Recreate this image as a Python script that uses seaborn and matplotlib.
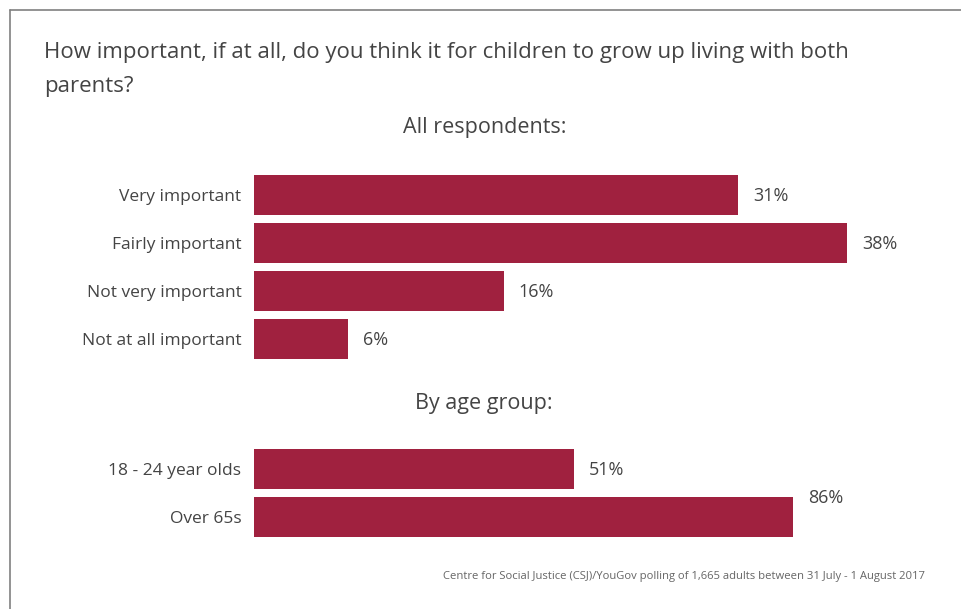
import matplotlib
matplotlib.use("Agg")
import matplotlib.pyplot as plt
from matplotlib.lines import Line2D
import seaborn as sns
import pandas as pd

# Survey answers, all respondents
answer_labels = ["Very important", "Fairly important", "Not very important", "Not at all important"]
answer_values = [31, 38, 16, 6]

# "Very/fairly important" by age group
age_labels = ["18 - 24 year olds", "Over 65s"]
age_values = [51, 86]

title = "How important, if at all, do you think it for children to grow up living with both\nparents?"
source = "Centre for Social Justice (CSJ)/YouGov polling of 1,665 adults between 31 July - 1 August 2017"

BAR = "#A0213F"
TEXT = "#444444"

sns.set_theme(style="white")
plt.rcParams["font.family"] = ["Open Sans", "DejaVu Sans"]

W, H = 962, 609
fig = plt.figure(figsize=(W / 100, H / 100), dpi=100)


def px_axes(x0, y0, x1, y1):
    return fig.add_axes([x0 / W, 1 - y1 / H, (x1 - x0) / W, (y1 - y0) / H])


def draw_group(ax, labels, values, xmax, offsets=None):
    df = pd.DataFrame({"label": labels, "value": values})
    sns.barplot(data=df, x="value", y="label", orient="h", color=BAR,
                saturation=1, width=0.83, linewidth=0, ax=ax)
    ax.set_xlim(0, xmax)
    ax.set_ylim(len(labels) - 0.5, -0.5)
    ax.set_xlabel("")
    ax.set_ylabel("")
    ax.set_xticks([])
    for s in ax.spines.values():
        s.set_visible(False)
    ax.tick_params(axis="y", length=0, pad=9, labelsize=12.5, labelcolor=TEXT)
    for i, v in enumerate(values):
        dy = offsets[i] if offsets else 0
        ax.annotate(f"{v}%", (v, i), xytext=(11, dy - 1), textcoords="offset points",
                    va="center", ha="left", fontsize=13, color=TEXT)


ax1 = px_axes(254, 171, 900, 363)
draw_group(ax1, answer_labels, answer_values, 646 / 15.6)

ax2 = px_axes(254, 445, 900, 541)
draw_group(ax2, age_labels, age_values, 646 / 6.27, offsets=[0, 15])

fig.text(44 / W, 1 - 42 / H, title, ha="left", va="top", fontsize=16,
         color=TEXT, linespacing=1.8)
fig.text(485 / W, 1 - 128 / H, "All respondents:", ha="center", va="center",
         fontsize=15.5, color=TEXT)
fig.text(484 / W, 1 - 404 / H, "By age group:", ha="center", va="center",
         fontsize=15.5, color=TEXT)
fig.text(925 / W, 1 - 577 / H, source, ha="right", va="center", fontsize=8.1,
         color="#666666")

# Panel frame: left and top edges
fig.add_artist(Line2D([10 / W, 10 / W], [0, 1 - 10 / H], transform=fig.transFigure,
                      color="#808080", lw=1.2))
fig.add_artist(Line2D([10 / W, 1], [1 - 10 / H, 1 - 10 / H], transform=fig.transFigure,
                      color="#808080", lw=1.2))

fig.savefig("out.png", dpi=100, facecolor="white")
